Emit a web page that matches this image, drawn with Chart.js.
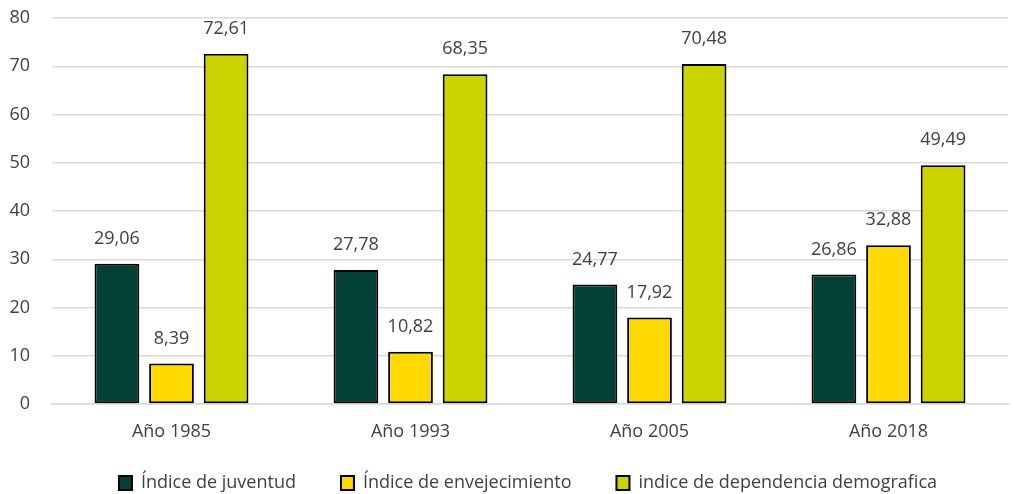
<!DOCTYPE html>
<html>
<head>
<meta charset="utf-8">
<script src="https://cdn.jsdelivr.net/npm/chart.js@4/dist/chart.umd.min.js"></script>
<style>
  html, body { margin: 0; padding: 0; background: #fff; }
  #wrap { width: 1013px; height: 494px; }
</style>
</head>
<body>
<div id="wrap"><canvas id="myChart"></canvas></div>
<script>
const categories = ['Año 1985', 'Año 1993', 'Año 2005', 'Año 2018'];
const juventud = [29.06, 27.78, 24.77, 26.86];
const envejecimiento = [8.39, 10.82, 17.92, 32.88];
const dependencia = [72.61, 68.35, 70.48, 49.49];
const yTicks = [0, 10, 20, 30, 40, 50, 60, 70, 80];

const FONT = "'Open Sans', 'Noto Sans', sans-serif";
const TEXT = '#404040';

// draws the value above each bar, with comma decimals
const valueLabels = {
  id: 'valueLabels',
  afterDatasetsDraw(chart) {
    const ctx = chart.ctx;
    ctx.save();
    ctx.font = '18px ' + FONT;
    ctx.fillStyle = TEXT;
    ctx.textAlign = 'center';
    ctx.textBaseline = 'middle';
    chart.data.datasets.forEach((ds, i) => {
      chart.getDatasetMeta(i).data.forEach((bar, j) => {
        ctx.fillText(ds.data[j].toFixed(2).replace('.', ','), bar.x, bar.y - 25);
      });
    });
    ctx.restore();
  }
};

// wide gaps between legend items without the tall box that padding gives
const LEGEND_H = 50, LEGEND_UP = 15, LEGEND_RIGHT = 24;
const legendSpacing = {
  id: 'legendSpacing',
  afterInit(chart) {
    const lg = chart.legend;
    const fit = lg.fit, draw = lg._draw;
    lg.fit = function () { fit.call(this); this.height = LEGEND_H; };
    lg._draw = function () {
      this.top -= LEGEND_UP; this.left += LEGEND_RIGHT; this.right += LEGEND_RIGHT;
      draw.call(this);
      this.top += LEGEND_UP; this.left -= LEGEND_RIGHT; this.right -= LEGEND_RIGHT;
    };
  }
};

const common = { borderColor: '#000', borderWidth: 2, borderSkipped: false,
  categoryPercentage: 0.685, barPercentage: 0.82 };

new Chart(document.getElementById('myChart'), {
  type: 'bar',
  data: {
    labels: categories,
    datasets: [
      { label: 'Índice de juventud', data: juventud, backgroundColor: '#034035', ...common },
      { label: 'Índice de envejecimiento', data: envejecimiento, backgroundColor: '#ffd900', ...common },
      { label: 'indice de dependencia demografica', data: dependencia, backgroundColor: '#ccd400', ...common }
    ]
  },
  options: {
    responsive: true,
    maintainAspectRatio: false,
    animation: false,
    layout: { padding: { left: 0, right: 5, top: 18, bottom: 0 } },
    scales: {
      x: {
        grid: { display: false, drawTicks: false },
        border: { color: '#d9d9d9', width: 1.5 },
        ticks: { color: TEXT, font: { family: FONT, size: 18 }, padding: 17 },
        afterFit(scale) { scale.height = 40; }
      },
      y: {
        min: 0, max: 80,
        afterBuildTicks(axis) { axis.ticks = yTicks.map(v => ({ value: v })); },
        grid: { color: '#d9d9d9', lineWidth: 1.5, drawTicks: false },
        border: { display: false },
        ticks: { color: TEXT, font: { family: FONT, size: 18 }, padding: 22 },
        afterFit(scale) { scale.width = 52; scale.paddingTop = 0; scale.paddingBottom = 0; }
      }
    },
    plugins: {
      legend: {
        position: 'bottom',
        labels: {
          color: TEXT,
          font: { family: FONT, size: 18 },
          boxWidth: 13, boxHeight: 14,
          padding: 45
        }
      },
      tooltip: { enabled: false }
    }
  },
  plugins: [valueLabels, legendSpacing]
});
</script>
</body>
</html>
